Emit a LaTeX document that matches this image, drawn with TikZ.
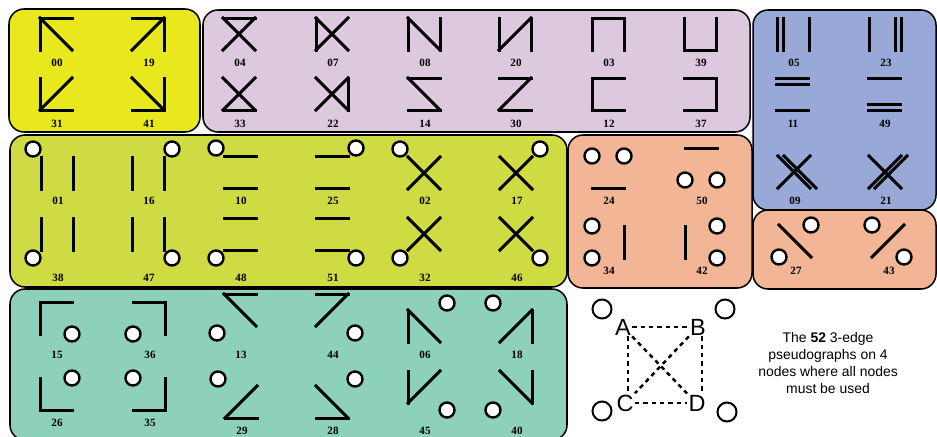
\documentclass[tikz,border=0pt]{standalone}
\usepackage{fontspec}
\setmainfont{Liberation Serif}
\setsansfont{Liberation Sans}
\definecolor{boxyellow}{HTML}{E8E81C}
\definecolor{boxlilac}{HTML}{DDC9DD}
\definecolor{boxblue}{HTML}{98A9D7}
\definecolor{boxlime}{HTML}{CEDB42}
\definecolor{boxsalmon}{HTML}{F2B697}
\definecolor{boxteal}{HTML}{8DD1BD}

\tikzset{
  panel/.style={draw=black,line width=1.3pt,rounded corners=0.45cm},
  edge/.style={line width=0.09cm,line cap=rect},
  loopc/.style={draw=black,fill=white,line width=0.072cm},
  lbl/.style={font=\bfseries\fontsize{9.5}{11}\selectfont,inner sep=0},
  legdash/.style={line width=0.075cm,dash pattern=on 0.13cm off 0.12cm},
  legloop/.style={circle,draw=black,fill=white,line width=0.06cm,
    minimum size=0.57cm,inner sep=0},
  corner/.style={font=\sffamily\fontsize{20}{24}\selectfont,inner sep=1pt},
}

% x, y, label, label y, loop offset, edges (u/u is a loop)
\newcommand{\pgraph}[6]{%
  \coordinate (a) at (#1,#2);
  \coordinate (b) at (#1+32,#2);
  \coordinate (c) at (#1,#2+32);
  \coordinate (d) at (#1+32,#2+32);
  \coordinate (la) at (#1-#5,#2-#5);
  \coordinate (lb) at (#1+32+#5,#2-#5);
  \coordinate (lc) at (#1-#5,#2+32+#5);
  \coordinate (ld) at (#1+32+#5,#2+32+#5);
  \foreach \na/\nb in {#6}{%
    \edef\ea{\na}\edef\eb{\nb}%
    \ifx\ea\eb \draw[loopc] (l\na) circle[radius=7.5];
    \else \draw[edge] (\na) -- (\nb); \fi}
  \node[lbl] (n#3) at (#1+17,#4) {#3};
}

\begin{document}
\begin{tikzpicture}[x=0.03cm,y=-0.03cm]
  \useasboundingbox (0,0) rectangle (937,436);
  \fill[white] (0,0) rectangle (937,436);
  % panels
  \path[panel,fill=boxyellow] (9,9) rectangle (200,132);
  \path[panel,fill=boxlilac] (203,10) rectangle (750,132);
  \path[panel,fill=boxblue] (753,10) rectangle (936,210);
  \path[panel,fill=boxlime] (10,135) rectangle (567,287);
  \path[panel,fill=boxsalmon] (568,135) rectangle (752,288);
  \path[panel,fill=boxsalmon] (753,210) rectangle (936,289);
  \path[panel,fill=boxteal] (10,289) rectangle (567,440);

  % yellow
  \pgraph{40}{18}{00}{63}{0}{a/b,a/c,a/d}
  \pgraph{132}{18}{19}{63}{0}{a/b,b/d,b/c}
  \pgraph{40}{78}{31}{124}{0}{a/c,c/d,b/c}
  \pgraph{132}{78}{41}{124}{0}{b/d,c/d,a/d}
  % lilac
  \pgraph{223}{18}{04}{63}{0}{a/b,a/d,b/c}
  \pgraph{316}{18}{07}{63}{0}{a/c,a/d,b/c}
  \pgraph{408}{18}{08}{63}{0}{a/c,a/d,b/d}
  \pgraph{499}{18}{20}{63}{0}{a/c,b/c,b/d}
  \pgraph{592}{18}{03}{63}{0}{a/b,a/c,b/d}
  \pgraph{684}{18}{39}{63}{0}{a/c,c/d,b/d}
  \pgraph{223}{78}{33}{124}{0}{c/d,a/d,b/c}
  \pgraph{316}{78}{22}{124}{0}{b/d,a/d,b/c}
  \pgraph{408}{78}{14}{124}{0}{a/b,a/d,c/d}
  \pgraph{499}{78}{30}{124}{0}{a/b,b/c,c/d}
  \pgraph{592}{78}{12}{124}{0}{a/b,a/c,c/d}
  \pgraph{684}{78}{37}{124}{0}{a/b,b/d,c/d}
  % blue, double edges
  \pgraph{777}{18}{05}{63}{0}{a/c,b/d}
  \draw[edge] ([xshift=0.18cm]a) -- ([xshift=0.18cm]c);
  \pgraph{869}{18}{23}{63}{0}{a/c,b/d}
  \draw[edge] ([xshift=-0.18cm]b) -- ([xshift=-0.18cm]d);
  \pgraph{776}{78}{11}{124}{0}{a/b,c/d}
  \draw[edge] ([yshift=-0.18cm]a) -- ([yshift=-0.18cm]b);
  \pgraph{868}{78}{49}{124}{0}{a/b,c/d}
  \draw[edge] ([yshift=0.18cm]c) -- ([yshift=0.18cm]d);
  \pgraph{778}{156}{09}{201}{0}{a/d,b/c}
  \draw[edge] ([xshift=0.18cm]a) -- ([xshift=0.18cm]d);
  \pgraph{869}{156}{21}{201}{0}{a/d,b/c}
  \draw[edge] ([xshift=0.18cm]b) -- ([xshift=0.18cm]c);
  % lime
  \pgraph{41}{157}{01}{201}{8}{a/c,b/d,a/a}
  \pgraph{132}{157}{16}{201}{8}{a/c,b/d,b/b}
  \pgraph{224}{156}{10}{201}{8}{a/b,c/d,a/a}
  \pgraph{316}{156}{25}{201}{8}{a/b,c/d,b/b}
  \pgraph{408}{157}{02}{201}{8}{a/d,b/c,a/a}
  \pgraph{500}{157}{17}{201}{8}{a/d,b/c,b/b}
  \pgraph{41}{218}{38}{278}{8}{a/c,b/d,c/c}
  \pgraph{132}{218}{47}{278}{8}{a/c,b/d,d/d}
  \pgraph{224}{218}{48}{278}{8}{a/b,c/d,c/c}
  \pgraph{316}{218}{51}{278}{8}{a/b,c/d,d/d}
  \pgraph{408}{218}{32}{278}{8}{a/d,b/c,c/c}
  \pgraph{500}{218}{46}{278}{8}{a/d,b/c,d/d}
  % salmon
  \pgraph{592}{156}{24}{201}{0}{c/d,a/a,b/b}
  \pgraph{685}{148}{50}{201}{0}{a/b,c/c,d/d}
  \pgraph{592}{226}{34}{271}{0}{b/d,a/a,c/c}
  \pgraph{685}{226}{42}{271}{0}{a/c,b/b,d/d}
  \pgraph{779}{225}{27}{271}{0}{a/d,b/b,c/c}
  \pgraph{872}{225}{43}{271}{0}{b/c,a/a,d/d}
  % teal
  \pgraph{40}{302}{15}{355}{0}{a/b,a/c,d/d}
  \pgraph{133}{302}{36}{355}{0}{a/b,b/d,c/c}
  \pgraph{40}{378}{26}{423}{0}{a/c,c/d,b/b}
  \pgraph{133}{378}{35}{423}{0}{b/d,c/d,a/a}
  \pgraph{224}{294}{13}{355}{7}{a/b,a/d,c/c}
  \pgraph{316}{294}{44}{355}{7}{a/b,b/c,d/d}
  \pgraph{225}{386}{29}{431}{7}{b/c,c/d,a/a}
  \pgraph{316}{386}{28}{431}{7}{a/d,c/d,b/b}
  \pgraph{408}{310}{06}{355}{7}{a/c,a/d,b/b}
  \pgraph{500}{310}{18}{355}{7}{b/d,b/c,a/a}
  \pgraph{408}{371}{45}{431}{7}{a/c,b/c,d/d}
  \pgraph{500}{371}{40}{431}{7}{b/d,a/d,c/c}

  % legend
  \node[corner] (A) at (623,327) {A};
  \node[corner] (B) at (698,327) {B};
  \node[corner] (C) at (625,403) {C};
  \node[corner] (D) at (697,403) {D};
  \node[legloop] (oA) at (602,309) {};
  \node[legloop] (oB) at (725,309) {};
  \node[legloop] (oC) at (602,411) {};
  \node[legloop] (oD) at (727,412) {};
  \draw[legdash] (A.east) -- (B.west);
  \draw[legdash] (C.east) -- (D.west);
  \draw[legdash] ([xshift=0.15cm]A.south) -- ([xshift=0.09cm]C.north);
  \draw[legdash] ([xshift=0.12cm]B.south) -- ([xshift=0.15cm]D.north);
  \draw[legdash] (A.south east) -- (D.north west);
  \draw[legdash] (B.south west) -- (C.north east);
  \node[font=\sffamily\fontsize{11.9}{14.7}\selectfont,align=center]
    (note) at (828,363) {The \textbf{52} 3-edge\\pseudographs on 4\\nodes where all nodes\\must be used};
\end{tikzpicture}
\end{document}
